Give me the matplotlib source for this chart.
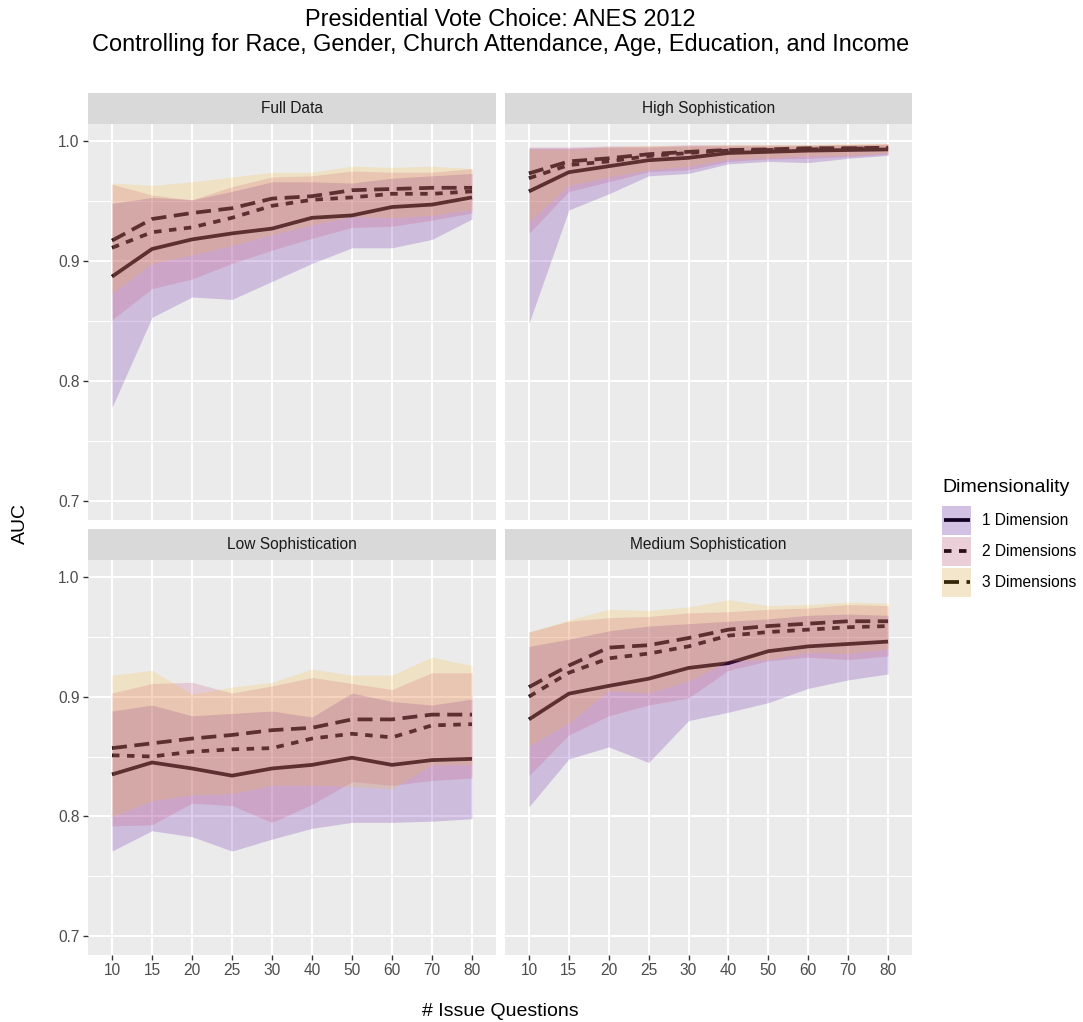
import matplotlib
matplotlib.use("Agg")
import matplotlib.pyplot as plt
from matplotlib.patches import Rectangle
from matplotlib.lines import Line2D
from matplotlib import colormaps

plt.rcParams['font.family'] = ['Liberation Sans', 'DejaVu Sans']

# ---------------- data ----------------
issue_questions = ["10", "15", "20", "25", "30", "40", "50", "60", "70", "80"]
dim_labels = ["1 Dimension", "2 Dimensions", "3 Dimensions"]
facet_titles = ["Full Data", "High Sophistication", "Low Sophistication", "Medium Sophistication"]

# Full Data
full_mean_1d = [0.887, 0.910, 0.918, 0.923, 0.927, 0.936, 0.938, 0.945, 0.947, 0.953]
full_mean_2d = [0.911, 0.924, 0.928, 0.936, 0.946, 0.951, 0.953, 0.956, 0.956, 0.958]
full_mean_3d = [0.917, 0.935, 0.940, 0.944, 0.952, 0.954, 0.959, 0.960, 0.961, 0.961]
full_lo_1d = [0.778, 0.853, 0.870, 0.868, 0.883, 0.898, 0.911, 0.911, 0.918, 0.935]
full_hi_1d = [0.948, 0.953, 0.951, 0.958, 0.966, 0.966, 0.965, 0.969, 0.971, 0.973]
full_lo_2d = [0.851, 0.877, 0.885, 0.898, 0.909, 0.919, 0.928, 0.929, 0.934, 0.940]
full_hi_2d = [0.964, 0.955, 0.951, 0.962, 0.970, 0.971, 0.975, 0.974, 0.974, 0.977]
full_lo_3d = [0.873, 0.898, 0.905, 0.913, 0.922, 0.930, 0.937, 0.936, 0.938, 0.943]
full_hi_3d = [0.965, 0.963, 0.966, 0.970, 0.974, 0.974, 0.979, 0.978, 0.979, 0.977]

# High Sophistication
high_mean_1d = [0.958, 0.974, 0.979, 0.984, 0.986, 0.990, 0.991, 0.992, 0.9925, 0.993]
high_mean_2d = [0.969, 0.980, 0.983, 0.9875, 0.990, 0.992, 0.9925, 0.993, 0.9936, 0.994]
high_mean_3d = [0.973, 0.983, 0.9856, 0.989, 0.991, 0.9925, 0.993, 0.994, 0.994, 0.9944]
high_lo_1d = [0.848, 0.9425, 0.956, 0.971, 0.973, 0.981, 0.983, 0.982, 0.9856, 0.988]
high_hi_1d = [0.994, 0.994, 0.995, 0.995, 0.996, 0.996, 0.996, 0.996, 0.997, 0.997]
high_lo_2d = [0.923, 0.958, 0.966, 0.9745, 0.976, 0.983, 0.985, 0.9856, 0.987, 0.989]
high_hi_2d = [0.995, 0.995, 0.996, 0.996, 0.997, 0.997, 0.997, 0.997, 0.997, 0.998]
high_lo_3d = [0.933, 0.963, 0.970, 0.976, 0.979, 0.985, 0.986, 0.9875, 0.988, 0.990]
high_hi_3d = [0.993, 0.993, 0.995, 0.996, 0.996, 0.997, 0.997, 0.997, 0.998, 0.998]

# Low Sophistication
low_mean_1d = [0.835, 0.845, 0.840, 0.834, 0.840, 0.843, 0.849, 0.843, 0.847, 0.848]
low_mean_2d = [0.851, 0.850, 0.854, 0.856, 0.857, 0.865, 0.869, 0.866, 0.876, 0.877]
low_mean_3d = [0.857, 0.861, 0.865, 0.868, 0.872, 0.874, 0.881, 0.881, 0.885, 0.885]
low_lo_1d = [0.771, 0.788, 0.783, 0.771, 0.781, 0.790, 0.795, 0.795, 0.796, 0.798]
low_hi_1d = [0.888, 0.893, 0.884, 0.886, 0.888, 0.883, 0.903, 0.896, 0.893, 0.898]
low_lo_2d = [0.792, 0.793, 0.811, 0.809, 0.795, 0.810, 0.829, 0.826, 0.830, 0.832]
low_hi_2d = [0.903, 0.911, 0.912, 0.903, 0.909, 0.916, 0.911, 0.906, 0.920, 0.920]
low_lo_3d = [0.800, 0.813, 0.818, 0.819, 0.826, 0.826, 0.825, 0.823, 0.843, 0.843]
low_hi_3d = [0.918, 0.922, 0.902, 0.908, 0.912, 0.923, 0.918, 0.918, 0.933, 0.926]

# Medium Sophistication
med_mean_1d = [0.881, 0.9025, 0.909, 0.915, 0.924, 0.928, 0.938, 0.942, 0.944, 0.946]
med_mean_2d = [0.900, 0.920, 0.932, 0.936, 0.942, 0.951, 0.954, 0.956, 0.958, 0.959]
med_mean_3d = [0.908, 0.926, 0.941, 0.943, 0.949, 0.956, 0.959, 0.961, 0.963, 0.963]
med_lo_1d = [0.808, 0.848, 0.858, 0.845, 0.880, 0.887, 0.895, 0.907, 0.914, 0.919]
med_hi_1d = [0.942, 0.948, 0.955, 0.959, 0.961, 0.963, 0.965, 0.968, 0.969, 0.968]
med_lo_2d = [0.834, 0.868, 0.884, 0.893, 0.899, 0.922, 0.930, 0.933, 0.931, 0.934]
med_hi_2d = [0.954, 0.963, 0.966, 0.967, 0.970, 0.971, 0.973, 0.974, 0.977, 0.976]
med_lo_3d = [0.859, 0.878, 0.905, 0.903, 0.913, 0.930, 0.931, 0.937, 0.936, 0.940]
med_hi_3d = [0.954, 0.964, 0.973, 0.972, 0.975, 0.981, 0.976, 0.977, 0.979, 0.978]

y_ticks = [0.7, 0.8, 0.9, 1.0]
y_tick_labels = ["0.7", "0.8", "0.9", "1.0"]

# ---------------- style ----------------
W, H = 1083, 1022
fig = plt.figure(figsize=(W / 100, H / 100), dpi=100)
fig.patch.set_facecolor("white")

fill_colors = [colormaps["plasma"](0.15), colormaps["plasma"](0.5), colormaps["plasma"](0.85)]
line_styles = ["-", (0, (2, 2)), (0, (4, 2))]
LW = 2.7
FILL_ALPHA = 0.2
YLIM = (0.68417, 1.01417)


def px_axes(x0, y0, x1, y1, **kw):
    return fig.add_axes([x0 / W, 1 - y1 / H, (x1 - x0) / W, (y1 - y0) / H], **kw)


panels = [
    (facet_titles[0], (88, 124, 496, 520), (full_mean_1d, full_mean_2d, full_mean_3d),
     (full_lo_1d, full_lo_2d, full_lo_3d), (full_hi_1d, full_hi_2d, full_hi_3d), True, False),
    (facet_titles[1], (505, 124, 912, 520), (high_mean_1d, high_mean_2d, high_mean_3d),
     (high_lo_1d, high_lo_2d, high_lo_3d), (high_hi_1d, high_hi_2d, high_hi_3d), False, False),
    (facet_titles[2], (88, 560, 496, 955), (low_mean_1d, low_mean_2d, low_mean_3d),
     (low_lo_1d, low_lo_2d, low_lo_3d), (low_hi_1d, low_hi_2d, low_hi_3d), True, True),
    (facet_titles[3], (505, 560, 912, 955), (med_mean_1d, med_mean_2d, med_mean_3d),
     (med_lo_1d, med_lo_2d, med_lo_3d), (med_hi_1d, med_hi_2d, med_hi_3d), False, True),
]

xpos = list(range(len(issue_questions)))

for title, (x0, y0, x1, y1), means, los, his, show_y, show_x in panels:
    ax = px_axes(x0, y0, x1, y1)
    ax.set_facecolor("#EBEBEB")
    for s in ax.spines.values():
        s.set_visible(False)
    ax.set_xlim(-0.6, len(issue_questions) - 1 + 0.6)
    ax.set_ylim(*YLIM)
    # grid
    for yv in [0.75, 0.85, 0.95]:
        ax.axhline(yv, color="white", lw=0.75, zorder=0.5)
    for yv in y_ticks:
        ax.axhline(yv, color="white", lw=1.5, zorder=0.6)
    for xv in xpos:
        ax.axvline(xv, color="white", lw=1.5, zorder=0.6)
    # lines (drawn first, ribbons overlay them)
    for m, ls in zip(means, line_styles):
        ax.plot(xpos, m, color="black", lw=LW, linestyle=ls, zorder=2,
                solid_capstyle="butt", dash_capstyle="butt")
    for lo, hi, c in zip(los, his, fill_colors):
        ax.fill_between(xpos, lo, hi, color=c, alpha=FILL_ALPHA, lw=0, zorder=3)

    ax.set_xticks(xpos)
    ax.set_yticks(y_ticks)
    ax.tick_params(axis="both", length=3.5, width=1.0, color="#333333",
                   labelsize=11.2, labelcolor="#4D4D4D", pad=2.5)
    if show_x:
        ax.set_xticklabels(issue_questions)
    else:
        ax.tick_params(axis="x", length=0, labelbottom=False)
    if show_y:
        ax.set_yticklabels(y_tick_labels)
    else:
        ax.tick_params(axis="y", length=0, labelleft=False)

    # strip
    sax = px_axes(x0, y0 - 31, x1, y0)
    sax.set_facecolor("#D9D9D9")
    sax.set_xticks([])
    sax.set_yticks([])
    for s in sax.spines.values():
        s.set_visible(False)
    sax.text(0.5, 0.5, title, ha="center", va="center", fontsize=11.2,
             color="#1A1A1A", transform=sax.transAxes)

# overlay for titles and legend (pixel coordinates)
ov = fig.add_axes([0, 0, 1, 1], zorder=10)
ov.set_xlim(0, W)
ov.set_ylim(H, 0)
ov.axis("off")
ov.patch.set_alpha(0)

ov.text(500.5, 20, "Presidential Vote Choice: ANES 2012", ha="center", va="center",
        fontsize=16.9, color="black")
ov.text(500.5, 45, "Controlling for Race, Gender, Church Attendance, Age, Education, and Income",
        ha="center", va="center", fontsize=16.9, color="black")
ov.text(20, 524, "AUC", rotation=90, ha="center", va="center", fontsize=14, color="black")
ov.text(500.5, 1011, "# Issue Questions", ha="center", va="center", fontsize=14, color="black")

# legend
ov.text(942, 487, "Dimensionality", ha="left", va="center", fontsize=14, color="black")
for i, (lab, ls, c) in enumerate(zip(dim_labels, line_styles, fill_colors)):
    ky = 506 + i * 31
    ov.add_patch(Rectangle((942, ky), 29, 29, facecolor="#F2F2F2", edgecolor="none", zorder=1))
    ov.add_line(Line2D([944, 970], [ky + 14.5, ky + 14.5], color="black", lw=LW,
                       linestyle=ls, zorder=2, solid_capstyle="butt", dash_capstyle="butt"))
    ov.add_patch(Rectangle((942, ky), 29, 29, facecolor=c, alpha=FILL_ALPHA,
                           edgecolor="none", zorder=3))
    ov.text(982, ky + 14.5, lab, ha="left", va="center", fontsize=11.2, color="black")

fig.savefig("out.png", dpi=100)
